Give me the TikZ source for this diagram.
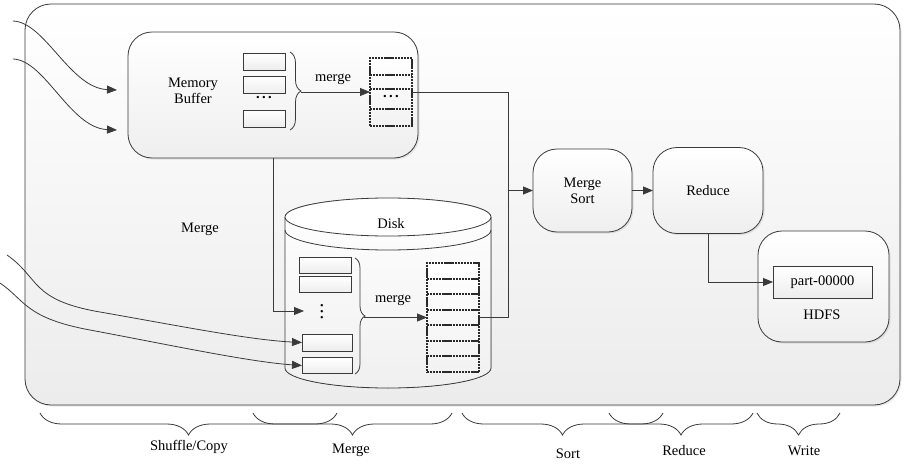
\documentclass[tikz,border=0pt]{standalone}
\usepackage{fontspec}
\setmainfont{Liberation Serif}
\usetikzlibrary{arrows.meta,decorations.pathreplacing,shadows,calc}
\definecolor{ln}{HTML}{3A3A3A}
\definecolor{dk}{HTML}{2A2A2A}
\begin{document}
\begin{tikzpicture}[x=1pt,y=-1pt,
  font=\fontsize{14.5}{16.5}\selectfont,
  line/.style={draw=ln, line width=0.8pt},
  arr/.style={line, -{Triangle[length=10pt,width=8pt]}},
  panel/.style={line, inner sep=0pt, outer sep=0pt, rounded corners=24pt,
    top color=white, bottom color=gray!13,
    drop shadow={opacity=0.18, shadow xshift=1.5pt, shadow yshift=-1.5pt}},
  slot/.style={line, line width=0.8pt, inner sep=0pt, outer sep=0pt,
    top color=white, bottom color=gray!14},
  dstack/.style={draw=dk, line width=1.9pt, dash pattern=on 2.2pt off 0.7pt,
    inner sep=0pt, outer sep=0pt, top color=white, bottom color=gray!10},
  dsep/.style={draw=dk, line width=1.9pt, dash pattern=on 2.2pt off 0.7pt},
  brc/.style={line, decorate, decoration={brace, amplitude=#1}},
  mbrc/.style={line, decorate, decoration={brace, mirror, amplitude=#1}},
  dotlbl/.style={inner sep=0pt, font=\bfseries\fontsize{14.5}{16.5}\selectfont},
]
\useasboundingbox (0,0) rectangle (906,466);

% outer frame
\node[panel, rounded corners=26pt, minimum width=875pt, minimum height=401pt,
  top color=white, bottom color=gray!15] (outer) at (462.5,204.5) {};

% memory buffer
\node[panel, minimum width=290pt, minimum height=126pt] (mem) at (273,95) {};
\node[align=center] (memtxt) at (193,91) {Memory\\Buffer};
\node[slot, minimum width=42pt, minimum height=17pt] (m1) at (264,61.5) {};
\node[slot, minimum width=42pt, minimum height=17pt] (m2) at (264,85) {};
\node[dotlbl] (mdots) at (264,98) {.\,.\,.};
\node[slot, minimum width=42pt, minimum height=17pt] (m4) at (264,118.5) {};
\draw[brc=11pt] (290,52) -- (290,130);
\coordinate (mtip) at (301,92);

% merged stack in memory
\node[dstack, minimum width=42pt, minimum height=68pt] (mstack) at (391,92) {};
\draw[dsep] (370,75) -- (412,75);
\draw[dsep] (370,89) -- (412,89);
\draw[dsep] (370,109) -- (412,109);
\node[dotlbl] (msdots) at (391,97) {.\,.\,.};
\node (mmerge) at (333,79) {merge};
\draw[arr] (mtip) -- (mstack.west);

% incoming segments to memory
\coordinate (inA) at (13,21);
\coordinate (inB) at (13,59);
\coordinate (tipA) at (117,90);
\coordinate (tipB) at (117,130);
\draw[arr] (inA) .. controls (45,22) and (70,88) .. (tipA);
\draw[arr] (inB) .. controls (45,60) and (70,128) .. (tipB);

% disk cylinder
\fill[top color=white, bottom color=gray!12]
  (285,217) -- (285,368)
  .. controls (285,379) and (331,388) .. (388,388)
  .. controls (445,388) and (491,379) .. (491,368)
  -- (491,217)
  .. controls (491,206) and (445,198) .. (388,198)
  .. controls (331,198) and (285,206) .. (285,217) -- cycle;
\draw[line]
  (285,217) -- (285,368)
  .. controls (285,379) and (331,388) .. (388,388)
  .. controls (445,388) and (491,379) .. (491,368)
  -- (491,217);
\draw[line, fill=white] (388,217) ellipse [x radius=103, y radius=19];
\draw[line] (285,230)
  .. controls (285,241) and (331,250) .. (388,250)
  .. controls (445,250) and (491,241) .. (491,230);
\node (disk) at (391,224) {Disk};

% disk segments
\node[slot, minimum width=52pt, minimum height=16pt] (d1) at (325,265) {};
\node[slot, minimum width=52pt, minimum height=16pt] (d2) at (325,284.5) {};
\node[dotlbl, rotate=90] (ddots) at (322,312) {.\,.\,.};
\node[slot, minimum width=50pt, minimum height=17pt] (d3) at (327,342.5) {};
\node[slot, minimum width=50pt, minimum height=16pt] (d4) at (327,365.5) {};
\draw[brc=10pt] (355,258) -- (355,374);
\coordinate (dtip) at (364,317.5);

% merged stack on disk
\node[dstack, minimum width=52pt, minimum height=109pt] (dstk) at (453,317.5) {};
\foreach \yy in {278.6,294.1,309.7,325.3,340.9,356.4}
  \draw[dsep] (427,\yy) -- (479,\yy);
\node (dmerge) at (393,300) {merge};
\draw[arr] (dtip) -- (dstk.west);

% spill from memory to disk
\coordinate (spill) at (304,311);
\draw[arr] (mem.south) |- (spill);

% incoming segments to disk
\coordinate (inC) at (7,255);
\coordinate (inD) at (0,283);
\draw[arr] (inC) .. controls (40,278) and (30,300) .. (100,312)
  .. controls (180,326) and (250,340) .. (d3.west);
\draw[arr] (inD) .. controls (25,300) and (25,318) .. (90,330)
  .. controls (170,345) and (250,362) .. (d4.west);

% merge sort, reduce, hdfs
\node[panel, minimum width=99pt, minimum height=83pt] (msort) at (582.5,190.5) {};
\node[align=center] (msorttxt) at (582.5,191) {Merge\\Sort};
\node[panel, minimum width=110pt, minimum height=86pt] (red) at (708,190.5) {};
\node (redtxt) at (708,191) {Reduce};
\node[panel, minimum width=131pt, minimum height=111pt] (hdfs) at (823.5,286.5) {};
\node[slot, minimum width=99pt, minimum height=32pt] (part) at (822.5,282) {part-00000};
\node (hdfstxt) at (822,315) {HDFS};

\coordinate (join) at (508,190.5);
\draw[line] (mstack.east) -| (join);
\draw[line] (dstk.east) -| (join);
\draw[arr] (join) -- (msort.west);
\draw[arr] (msort.east) -- (red.west);
\draw[arr] (red.south) |- (part.west);

% side label
\node (sidemerge) at (200,229) {Merge};

% phase braces
\draw[mbrc=22pt] (40,413) -- (337,413);
\draw[mbrc=22pt] (253,413) -- (452,413);
\draw[mbrc=22pt] (462,413) -- (663,413);
\draw[mbrc=22pt] (609,413) -- (753,413);
\draw[mbrc=22pt] (757,413) -- (840,413);
\node (pshuf) at (189,447) {Shuffle/Copy};
\node (pmerge) at (351,450) {Merge};
\node (psort) at (568,454) {Sort};
\node (pred) at (684,451) {Reduce};
\node (pwrite) at (804,451) {Write};
\end{tikzpicture}
\end{document}
